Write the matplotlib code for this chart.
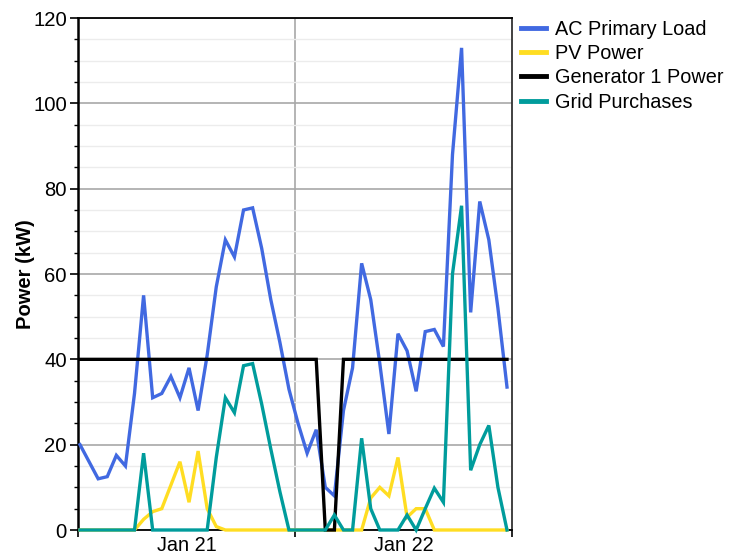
import numpy as np
import matplotlib
matplotlib.use("Agg")
import matplotlib.pyplot as plt
from matplotlib.ticker import MultipleLocator, FixedLocator, NullFormatter

plt.rcParams['font.family'] = ['Liberation Sans', 'DejaVu Sans']

# Hourly values over two days (kW)
hours = np.arange(48)

ac_primary_load = [20, 16, 12, 12.5, 17.5, 15, 32, 55, 31, 32, 36, 31,
                   38, 28, 41, 57, 68, 64, 75, 75.5, 66, 54, 44, 33,
                   25, 18, 23.5, 10, 8, 28, 38, 62.5, 54, 39, 22.5, 46,
                   42, 32.5, 46.5, 47, 43, 88, 113, 51, 77, 68, 52, 33.5]

pv_power = [0, 0, 0, 0, 0, 0, 0, 2.5, 4.3, 5, 10.5, 16,
            6.5, 18.5, 5, 0.8, 0, 0, 0, 0, 0, 0, 0, 0,
            0, 0, 0, 0, 0, 0, 0, 0, 7.5, 10, 8, 17,
            3, 5, 5, 0, 0, 0, 0, 0, 0, 0, 0, 0]

generator_1_power = [40] * 27 + [0, 0] + [40] * 19

grid_purchases = [0, 0, 0, 0, 0, 0, 0, 18, 0, 0, 0, 0,
                  0, 0, 0, 17, 31, 27.5, 38.5, 39, 29.5, 19, 9, 0,
                  0, 0, 0, 0, 3.5, 0, 0, 21.5, 5, 0, 0, 0,
                  3.5, 0, 5, 9.8, 6.5, 60, 76, 14, 20, 24.5, 10, 0]

series_names = ["AC Primary Load", "PV Power", "Generator 1 Power", "Grid Purchases"]
series_colors = ["#4169e1", "#ffdd22", "#000000", "#009c9c"]

# Time axis layout: day boundaries and day labels
day_bounds = [-0.22, 23.67, 47.55]
day_labels = ["Jan 21", "Jan 22"]

fig = plt.figure(figsize=(7.31, 5.58), dpi=100)
ax = fig.add_axes([78 / 731, 28 / 558, 434 / 731, 512 / 558])

for values, name, color in zip(
        [ac_primary_load, pv_power, generator_1_power, grid_purchases],
        series_names, series_colors):
    ax.plot(hours, values, color=color, lw=2.4, label=name,
            solid_joinstyle='miter', clip_on=False, zorder=3)

ax.set_xlim(day_bounds[0], day_bounds[-1])
ax.set_ylim(0, 120)

# Y axis ticks and grid
ax.yaxis.set_major_locator(MultipleLocator(20))
ax.yaxis.set_minor_locator(MultipleLocator(5))
ax.grid(axis='y', which='major', color='#a8a8a8', lw=1.2, zorder=0)
ax.grid(axis='y', which='minor', color='#ececec', lw=1.0, zorder=0)

# X axis: tick at each day boundary, labels centred within each day
ax.xaxis.set_major_locator(FixedLocator(day_bounds))
ax.xaxis.set_major_formatter(NullFormatter())
centres = [(a + b) / 2 for a, b in zip(day_bounds[:-1], day_bounds[1:])]
ax.xaxis.set_minor_locator(FixedLocator(centres))
ax.set_xticklabels(day_labels, minor=True)
ax.tick_params(axis='x', which='minor', length=0, pad=4, labelsize=14.3)
ax.tick_params(axis='x', which='major', length=5, width=1.2, color='black')
for b in day_bounds[1:-1]:
    ax.axvline(b, color='#a8a8a8', lw=1.2, zorder=0)

ax.tick_params(axis='y', which='major', length=6, width=1.2, pad=2,
               labelsize=14.6, color='black')
ax.tick_params(axis='y', which='minor', length=3, width=1.0, color='black')

for side in ['left', 'bottom', 'top', 'right']:
    ax.spines[side].set_color('black')
    ax.spines[side].set_linewidth(1.3)
ax.spines['left'].set_linewidth(1.8)
ax.spines['right'].set_color('#333333')

ax.set_ylabel("Power (kW)", fontsize=14.5, fontweight='bold')
ax.yaxis.set_label_coords(-0.10, 0.5)

leg = ax.legend(loc='upper left', bbox_to_anchor=(1.02, 0.996), frameon=False,
                fontsize=14.3, handlelength=1.3, handletextpad=0.45,
                labelspacing=0.26, borderpad=0.0, borderaxespad=0.0)
for line in leg.get_lines():
    line.set_linewidth(3.5)

fig.savefig("out.png", dpi=100, facecolor='white')
